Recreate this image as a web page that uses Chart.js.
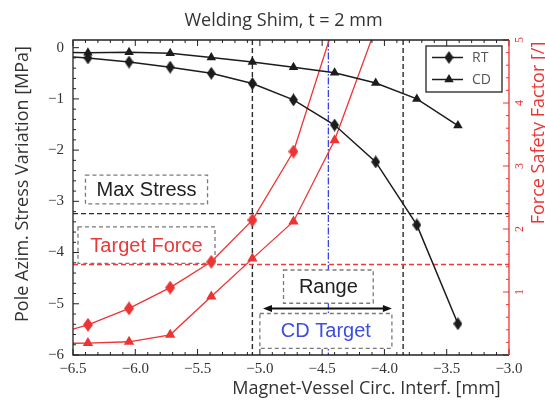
<!DOCTYPE html>
<html><head><meta charset="utf-8">
<script src="https://cdn.jsdelivr.net/npm/chart.js@4.4.0/dist/chart.umd.min.js"></script>
<style>html,body{margin:0;padding:0;background:#fff;overflow:hidden}#wrap{width:545px;height:405px}</style>
</head><body><div id="wrap"><canvas id="c" width="545" height="405"></canvas></div>
<script>
// ---- data ----
const interference = [-6.71, -6.38, -6.05, -5.72, -5.39, -5.06, -4.73, -4.40, -4.07, -3.74, -3.41];
const stressRT = [-0.15, -0.20, -0.28, -0.38, -0.50, -0.70, -1.02, -1.51, -2.23, -3.46, -5.39];
const stressCD = [-0.08, -0.10, -0.09, -0.11, -0.19, -0.28, -0.38, -0.49, -0.69, -1.00, -1.52];
const forceRT = [0.29, 0.48, 0.74, 1.07, 1.48, 2.14, 3.23, 5.27, null, null, null];
const forceCD = [0.18, 0.19, 0.21, 0.32, 0.93, 1.53, 2.12, 3.41, 5.19, null, null];
const xTicks = [-6.5, -6.0, -5.5, -5.0, -4.5, -4.0, -3.5, -3.0];
const stressTicks = [0, -1, -2, -3, -4, -5, -6];
const forceTicks = [1, 2, 3, 4, 5];
const seriesNames = ['RT', 'CD'];
const maxStress = -3.24;
const targetForce = 1.45;
const rangeMin = -5.06, rangeMax = -3.85;
const cdTarget = -4.45;
const titleText = 'Welding Shim, t = 2 mm';
const xTitle = 'Magnet-Vessel Circ. Interf. [mm]';
const yTitle = 'Pole Azim. Stress Variation [MPa]';
const y2Title = 'Force Safety Factor [/]';
// annotation boxes in data units (x, left y axis)
const boxes = [
  {text: 'Max Stress', x0: -6.40, x1: -5.42, y0: -2.49, y1: -3.05, color: '#222'},
  {text: 'Target Force', x0: -6.46, x1: -5.36, y0: -3.50, y1: -4.21, color: '#e83a3a'},
  {text: 'Range', x0: -4.81, x1: -4.09, y0: -4.34, y1: -4.99, color: '#222'},
  {text: 'CD Target', x0: -5.00, x1: -3.94, y0: -5.19, y1: -5.87, color: '#3d4de0'}
];
const rangeArrow = {x0: -4.975, x1: -3.94, y: -5.09};

const RED = '#ec3434';
const BLACK = '#1c1c1c';

function diamond(color, w, h) {
  const c = document.createElement('canvas'); c.width = w; c.height = h;
  const g = c.getContext('2d'); g.fillStyle = color;
  g.beginPath(); g.moveTo(w / 2, 0); g.lineTo(w, h / 2); g.lineTo(w / 2, h); g.lineTo(0, h / 2); g.closePath(); g.fill();
  return c;
}
const dBlack = diamond(BLACK, 9, 13);
const dRed = diamond(RED, 10, 14);

const pts = ys => interference.map((x, i) => ({x, y: ys[i]})).filter(p => p.y !== null);
const fmtX = v => (v < 0 ? '\u2212' : '') + Math.abs(v).toFixed(1);
const fmtY = v => (v < 0 ? '\u2212' : '') + Math.abs(v).toFixed(0);

function seg(ctx, x0, y0, x1, y1) { ctx.beginPath(); ctx.moveTo(x0, y0); ctx.lineTo(x1, y1); ctx.stroke(); }

const deco = {
  id: 'deco',
  beforeDatasetsDraw(chart) {
    const {ctx, chartArea: a, scales: {x, y, y2}} = chart;
    ctx.save();
    ctx.beginPath(); ctx.rect(a.left, a.top, a.right - a.left, a.bottom - a.top); ctx.clip();
    ctx.setLineDash([5, 3]);
    ctx.strokeStyle = '#2a2a2a'; ctx.lineWidth = 1.4;
    [rangeMin, rangeMax].forEach(v => { const p = x.getPixelForValue(v); seg(ctx, p, a.top, p, a.bottom); });
    let p = y.getPixelForValue(maxStress); seg(ctx, a.left, p, a.right, p);
    ctx.strokeStyle = '#f03a3a'; ctx.lineWidth = 1.5;
    p = Math.round(y2.getPixelForValue(targetForce)) + 0.5; seg(ctx, a.left, p, a.right, p);
    ctx.strokeStyle = '#3b44e0'; ctx.lineWidth = 1.3; ctx.setLineDash([7, 2, 1.5, 2]);
    p = x.getPixelForValue(cdTarget); seg(ctx, p, a.top, p, a.bottom);
    // boxes
    boxes.forEach(b => {
      const l = x.getPixelForValue(b.x0), r = x.getPixelForValue(b.x1);
      const t = y.getPixelForValue(b.y0), btm = y.getPixelForValue(b.y1);
      ctx.setLineDash([]); ctx.fillStyle = '#fff'; ctx.fillRect(l, t, r - l, btm - t);
      ctx.setLineDash([4, 3]); ctx.strokeStyle = '#7a7a7a'; ctx.lineWidth = 1.3;
      ctx.strokeRect(l, t, r - l, btm - t);
      ctx.fillStyle = b.color; ctx.font = '20px "Liberation Sans", Arial, sans-serif';
      ctx.textAlign = 'center'; ctx.textBaseline = 'middle';
      ctx.fillText(b.text, (l + r) / 2, (t + btm) / 2 + 1);
    });
    // arrow
    const ax0 = x.getPixelForValue(rangeArrow.x0), ax1 = x.getPixelForValue(rangeArrow.x1), ay = y.getPixelForValue(rangeArrow.y);
    ctx.setLineDash([]); ctx.strokeStyle = '#111'; ctx.fillStyle = '#111'; ctx.lineWidth = 2;
    seg(ctx, ax0 + 6, ay, ax1 - 6, ay);
    ctx.beginPath(); ctx.moveTo(ax0, ay); ctx.lineTo(ax0 + 9, ay - 3.5); ctx.lineTo(ax0 + 9, ay + 3.5); ctx.closePath(); ctx.fill();
    ctx.beginPath(); ctx.moveTo(ax1, ay); ctx.lineTo(ax1 - 9, ay - 3.5); ctx.lineTo(ax1 - 9, ay + 3.5); ctx.closePath(); ctx.fill();
    ctx.restore();
  },
  afterDatasetsDraw(chart) {
    const {ctx, chartArea: a, scales: {x, y, y2}} = chart;
    ctx.save();
    ctx.setLineDash([]);
    // inward ticks
    ctx.lineWidth = 1; ctx.strokeStyle = '#222';
    for (let i = -65; i <= -30; i++) {
      const v = i / 10, px = x.getPixelForValue(v), len = (i % 5 === 0) ? 6 : 3;
      seg(ctx, px, a.bottom, px, a.bottom - len);
      seg(ctx, px, a.top, px, a.top + len);
    }
    for (let i = -30; i <= 0; i++) {
      const v = i / 5, py = y.getPixelForValue(v), len = (i % 5 === 0) ? 6 : 3;
      seg(ctx, a.left, py, a.left + len, py);
    }
    ctx.strokeStyle = RED;
    for (let i = 0; i <= 25; i++) {
      const v = i / 5, py = y2.getPixelForValue(v), len = (i % 5 === 0) ? 6 : 3;
      seg(ctx, a.right, py, a.right - len, py);
    }
    // frame
    ctx.lineWidth = 1.3; ctx.strokeStyle = '#222';
    ctx.beginPath(); ctx.moveTo(a.right, a.top); ctx.lineTo(a.left, a.top); ctx.lineTo(a.left, a.bottom); ctx.lineTo(a.right, a.bottom); ctx.stroke();
    ctx.strokeStyle = RED; seg(ctx, a.right, a.top, a.right, a.bottom);
    // right tick labels (rotated)
    ctx.fillStyle = RED; ctx.font = '12px "Liberation Serif", serif';
    ctx.textAlign = 'center'; ctx.textBaseline = 'middle';
    forceTicks.forEach(v => {
      const py = y2.getPixelForValue(v);
      ctx.save(); ctx.translate(a.right + 11, py); ctx.rotate(-Math.PI / 2); ctx.fillText(String(v), 0, 0); ctx.restore();
    });
    // legend
    const lx = a.right - 83, ly = a.top + 6, lw = 76, lh = 46;
    ctx.fillStyle = '#fff'; ctx.fillRect(lx, ly, lw, lh);
    ctx.strokeStyle = '#222'; ctx.lineWidth = 1.3; ctx.strokeRect(lx, ly, lw, lh);
    seriesNames.forEach((name, i) => {
      const cy = ly + 11.5 + i * 22;
      ctx.strokeStyle = BLACK; ctx.lineWidth = 1.5; seg(ctx, lx + 6, cy, lx + 37, cy);
      ctx.fillStyle = BLACK;
      if (i === 0) { ctx.drawImage(dBlack, lx + 23 - 4.5, cy - 6.5); }
      else { const r = 5.5; ctx.beginPath(); ctx.moveTo(lx + 23, cy - r); ctx.lineTo(lx + 23 + r * 0.866, cy + r / 2); ctx.lineTo(lx + 23 - r * 0.866, cy + r / 2); ctx.closePath(); ctx.fill(); }
      ctx.fillStyle = '#555'; ctx.font = '14px "Open Sans", sans-serif'; ctx.textAlign = 'left'; ctx.textBaseline = 'middle';
      ctx.fillText(name, lx + 46, cy + 1);
    });
    ctx.restore();
  },
  afterDraw(chart) {
    const {ctx, chartArea: a} = chart;
    ctx.save();
    ctx.textAlign = 'center'; ctx.textBaseline = 'middle';
    ctx.fillStyle = '#333'; ctx.font = '18px "Open Sans", sans-serif';
    ctx.fillText(titleText, 283.5, 21);
    ctx.font = '18px "Open Sans", sans-serif';
    ctx.fillText(xTitle, 366.5, 389);
    ctx.save(); ctx.translate(23, 184); ctx.rotate(-Math.PI / 2); ctx.fillText(yTitle, 0, 0); ctx.restore();
    ctx.fillStyle = RED;
    ctx.save(); ctx.translate(539, 133); ctx.rotate(-Math.PI / 2); ctx.fillText(y2Title, 0, 0); ctx.restore();
    ctx.restore();
  }
};

const tickFont = {family: '"Liberation Serif", serif', size: 15};
new Chart(document.getElementById('c'), {
  type: 'scatter',
  data: {
    datasets: [
      {label: 'RT', data: pts(stressRT), yAxisID: 'y', showLine: true, borderColor: BLACK, borderWidth: 1.5, pointStyle: dBlack, tension: 0},
      {label: 'CD', data: pts(stressCD), yAxisID: 'y', showLine: true, borderColor: BLACK, borderWidth: 1.5, pointStyle: 'triangle', pointRadius: 5.5, backgroundColor: BLACK, pointBorderWidth: 0, tension: 0},
      {label: 'RT force', data: pts(forceRT), yAxisID: 'y2', showLine: true, borderColor: RED, borderWidth: 1.3, pointStyle: dRed, tension: 0},
      {label: 'CD force', data: pts(forceCD), yAxisID: 'y2', showLine: true, borderColor: RED, borderWidth: 1.3, pointStyle: 'triangle', pointRadius: 6, backgroundColor: RED, pointBorderWidth: 0, tension: 0}
    ]
  },
  options: {
    responsive: false, animation: false, devicePixelRatio: 1,
    layout: {padding: {top: 40, left: 0, right: 0, bottom: 0}},
    plugins: {legend: {display: false}, tooltip: {enabled: false}, title: {display: false}},
    scales: {
      x: {type: 'linear', min: -6.5, max: -3.0, position: 'bottom',
        afterFit: s => { s.height = 50; },
        afterBuildTicks: s => { s.ticks = xTicks.map(v => ({value: v})); },
        grid: {display: false, drawTicks: false}, border: {display: false},
        ticks: {padding: 5, color: '#333', font: tickFont, callback: v => fmtX(v), maxRotation: 0, autoSkip: false}},
      y: {type: 'linear', min: -6, max: 0.15, position: 'left',
        afterFit: s => { s.width = 73; },
        afterBuildTicks: s => { s.ticks = stressTicks.map(v => ({value: v})); },
        grid: {display: false, drawTicks: false}, border: {display: false},
        ticks: {padding: 9, color: '#333', font: tickFont, callback: v => fmtY(v)}},
      y2: {type: 'linear', min: 0, max: 5, position: 'right',
        afterFit: s => { s.width = 36; },
        grid: {display: false, drawTicks: false}, border: {display: false},
        ticks: {display: false}}
    }
  },
  plugins: [deco]
});
</script>
</body></html>
